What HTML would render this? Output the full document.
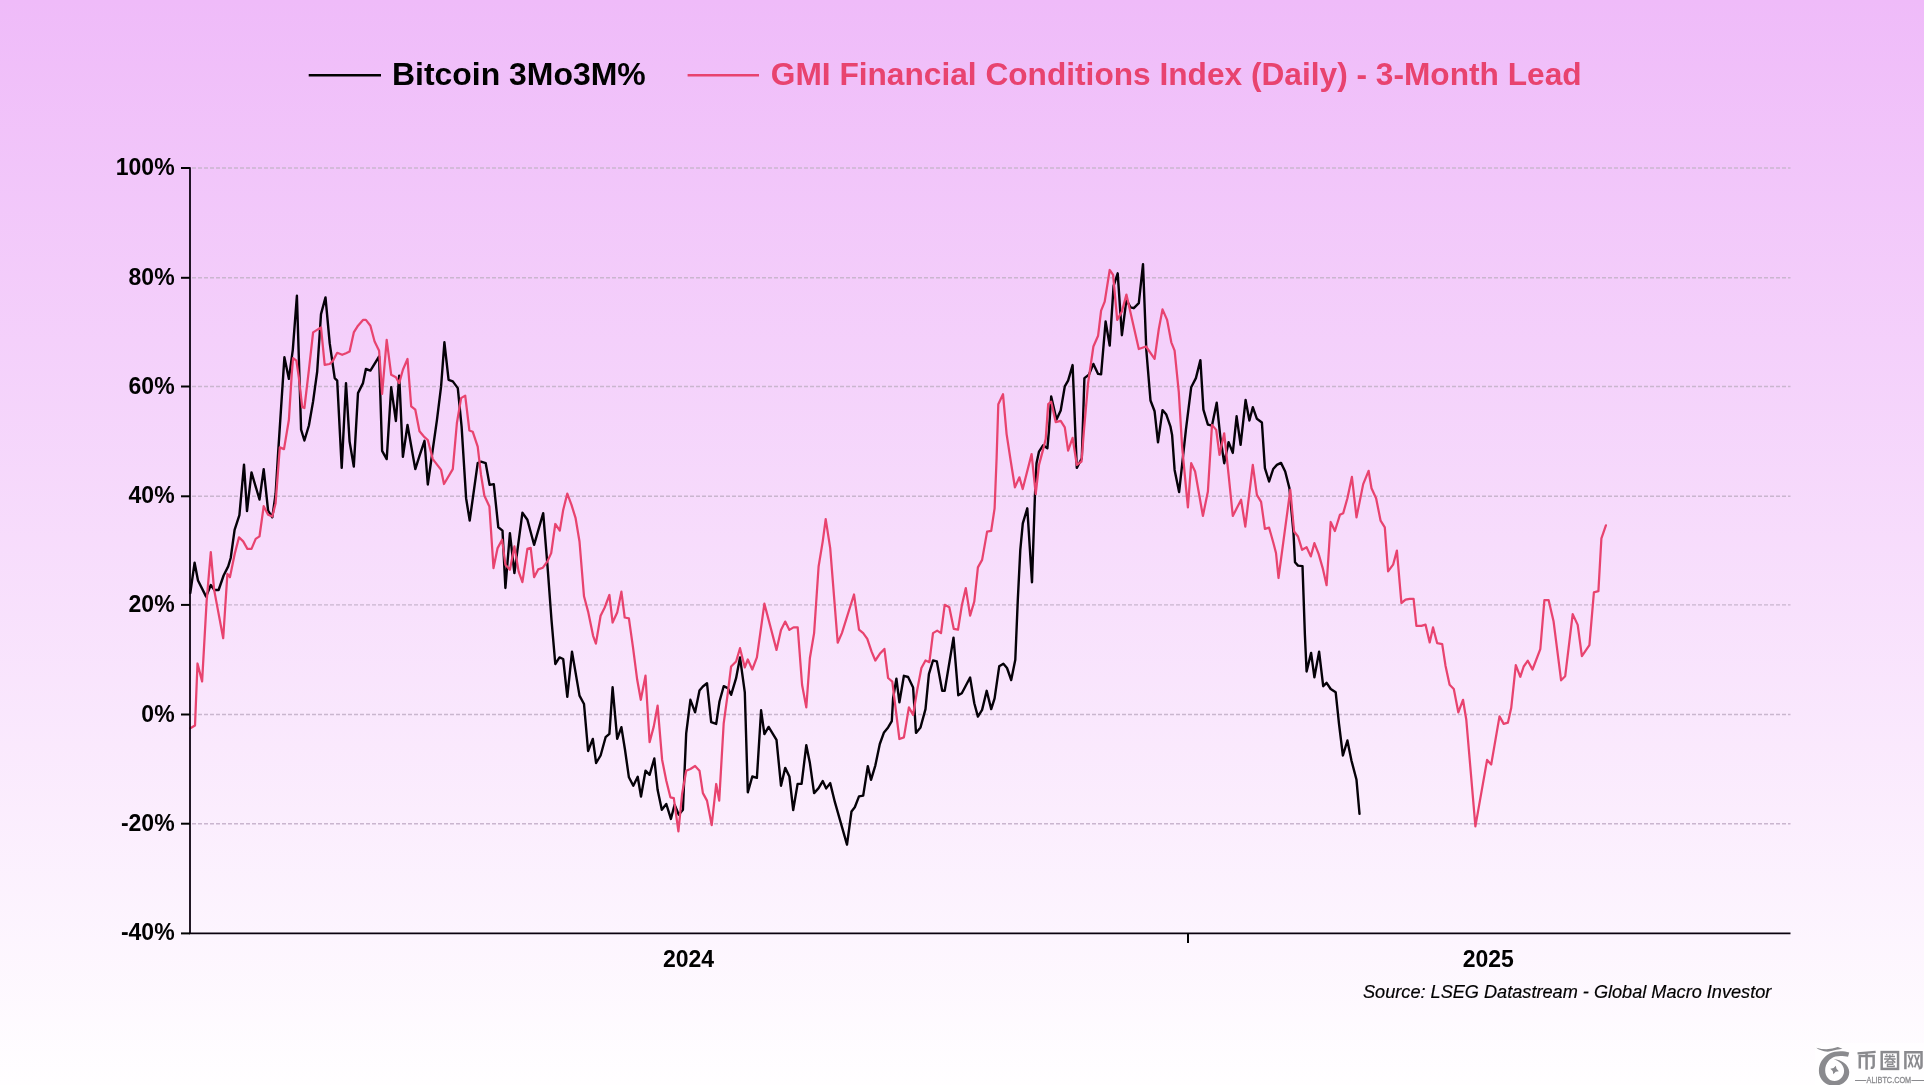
<!DOCTYPE html>
<html><head><meta charset="utf-8"><title>Bitcoin vs GMI Financial Conditions</title>
<style>
html,body{margin:0;padding:0}
body{width:1924px;height:1085px;overflow:hidden;position:relative;background:#F6DBFB;font-family:"Liberation Sans",sans-serif}
#bg{position:absolute;left:0;top:0;width:1924px;height:1085px;background:linear-gradient(180deg,#EFBBF9 0px,#FFFEFF 1085px)}
svg{position:absolute;left:0;top:0;display:block;will-change:transform;opacity:0.9999}
text{font-family:"Liberation Sans",sans-serif}
.yl{font-size:23px;font-weight:bold;fill:#000;text-anchor:end}
.xl{font-size:23px;font-weight:bold;fill:#000;text-anchor:middle}
</style></head><body>
<div id="bg"></div>
<svg width="1924" height="1085" viewBox="0 0 1924 1085">
<line x1="308.7" y1="75.3" x2="381" y2="75.3" stroke="#000" stroke-width="2.4"/>
<text x="392" y="85.3" font-size="31.95" font-weight="bold" fill="#000">Bitcoin 3Mo3M%</text>
<line x1="687.6" y1="75.3" x2="759" y2="75.3" stroke="#E8436F" stroke-width="2.4"/>
<text x="770.8" y="85.3" font-size="31.66" font-weight="bold" fill="#E8436F">GMI Financial Conditions Index (Daily) - 3-Month Lead</text>
<line x1="192.0" y1="168.0" x2="1790.5" y2="168.0" stroke="#CAB6CF" stroke-width="1.4" stroke-dasharray="4 2"/>
<line x1="192.0" y1="277.8" x2="1790.5" y2="277.8" stroke="#CAB6CF" stroke-width="1.4" stroke-dasharray="4 2"/>
<line x1="192.0" y1="386.5" x2="1790.5" y2="386.5" stroke="#CAB6CF" stroke-width="1.4" stroke-dasharray="4 2"/>
<line x1="192.0" y1="496.3" x2="1790.5" y2="496.3" stroke="#CAB6CF" stroke-width="1.4" stroke-dasharray="4 2"/>
<line x1="192.0" y1="604.9" x2="1790.5" y2="604.9" stroke="#CAB6CF" stroke-width="1.4" stroke-dasharray="4 2"/>
<line x1="192.0" y1="714.5" x2="1790.5" y2="714.5" stroke="#CAB6CF" stroke-width="1.4" stroke-dasharray="4 2"/>
<line x1="192.0" y1="823.7" x2="1790.5" y2="823.7" stroke="#CAB6CF" stroke-width="1.4" stroke-dasharray="4 2"/>
<path d="M190.3,593.0 L194.6,562.7 L198.0,580.5 L206.1,596.6 L210.8,585.0 L214.4,590.0 L218.6,590.0 L223.6,575.5 L228.2,566.4 L230.7,558.0 L234.6,529.8 L239.4,515.1 L244.0,464.6 L247.0,511.1 L251.5,472.4 L259.5,499.5 L263.7,469.1 L268.1,510.6 L272.3,517.3 L275.6,494.0 L278.1,453.3 L284.4,357.3 L288.9,378.9 L292.8,349.8 L296.9,295.8 L301.1,429.7 L304.4,440.5 L308.9,425.5 L313.1,401.4 L317.2,371.5 L321.0,314.1 L325.5,297.4 L329.7,343.2 L334.7,378.1 L337.2,380.6 L341.7,467.9 L346.0,383.1 L349.6,441.6 L353.8,466.6 L358.0,393.1 L363.0,383.1 L365.9,369.0 L370.4,370.6 L379.1,356.5 L382.1,450.8 L386.7,459.1 L391.2,387.3 L395.9,421.0 L399.2,375.6 L402.9,456.9 L407.5,425.0 L415.3,469.1 L419.5,455.8 L424.5,440.8 L427.8,484.5 L437.0,419.7 L441.1,386.4 L444.4,342.3 L448.6,379.8 L452.8,381.4 L457.8,388.1 L461.6,426.7 L466.1,498.2 L469.7,520.6 L477.7,463.2 L481.0,461.6 L485.7,463.2 L489.6,484.9 L493.8,484.1 L498.3,527.3 L502.5,530.6 L505.4,588.0 L509.9,533.1 L514.4,573.1 L522.4,512.8 L527.4,519.8 L534.1,544.8 L543.2,513.2 L547.4,564.7 L551.5,620.0 L555.3,664.0 L559.5,657.4 L563.2,659.0 L567.3,696.8 L572.0,651.6 L579.5,695.6 L584.0,704.0 L588.1,751.0 L592.8,738.9 L596.1,763.0 L600.6,755.5 L605.6,737.2 L609.4,733.9 L612.6,687.3 L617.2,738.9 L621.4,727.2 L625.0,749.7 L628.9,777.3 L633.3,785.7 L637.7,776.8 L641.0,796.5 L645.5,770.7 L649.6,774.8 L654.3,758.5 L657.6,789.8 L661.8,809.8 L666.3,804.0 L670.9,818.9 L674.6,804.8 L678.8,814.8 L682.9,809.8 L686.2,733.3 L690.4,699.8 L695.1,712.3 L699.5,690.6 L702.9,686.5 L707.0,683.2 L711.2,722.2 L716.2,723.9 L719.5,701.5 L723.7,686.2 L727.8,688.1 L731.1,694.8 L736.1,678.2 L740.0,657.4 L744.8,692.3 L747.8,792.3 L752.3,776.5 L756.9,777.8 L761.1,710.3 L764.4,734.1 L768.6,726.9 L776.5,739.9 L781.0,785.7 L785.2,767.9 L789.4,776.5 L793.2,810.1 L797.6,783.9 L801.6,783.9 L806.3,745.2 L809.9,763.1 L814.1,793.1 L818.6,788.1 L822.7,781.1 L826.2,788.4 L830.2,783.1 L834.9,802.2 L847.0,844.6 L851.5,811.4 L854.8,807.2 L859.0,796.4 L863.2,795.6 L867.8,766.1 L871.0,779.8 L875.3,765.6 L879.8,744.0 L884.0,732.4 L888.1,727.4 L891.8,721.2 L893.1,698.3 L896.4,678.6 L899.4,702.4 L903.9,675.8 L908.1,677.0 L913.1,687.5 L916.0,732.9 L920.5,727.4 L925.5,709.1 L928.9,674.2 L933.0,660.5 L936.8,661.3 L942.2,690.8 L944.7,690.8 L953.5,637.7 L958.3,695.3 L961.8,693.3 L970.1,677.5 L974.3,703.3 L977.9,716.6 L982.1,709.9 L986.7,690.8 L991.2,709.1 L994.6,698.3 L999.2,666.3 L1003.4,663.8 L1007.0,668.0 L1011.2,680.0 L1015.3,659.7 L1017.8,599.8 L1020.3,549.9 L1022.8,523.3 L1027.3,508.3 L1032.0,582.3 L1034.9,496.5 L1036.5,463.2 L1039.0,451.6 L1043.2,445.2 L1047.4,448.2 L1049.0,429.9 L1051.2,396.4 L1056.5,419.6 L1060.7,410.5 L1064.8,386.4 L1068.1,380.6 L1072.6,365.1 L1076.8,467.9 L1081.8,458.2 L1084.4,378.1 L1088.9,374.7 L1093.4,363.9 L1098.1,373.9 L1101.1,374.4 L1105.6,321.5 L1109.7,345.6 L1113.6,285.8 L1117.7,273.3 L1121.9,335.2 L1126.4,299.9 L1130.5,307.4 L1133.8,308.2 L1138.8,303.2 L1143.0,264.1 L1146.3,349.8 L1150.5,400.5 L1154.6,411.3 L1158.0,442.4 L1162.5,410.1 L1166.3,414.6 L1170.4,426.3 L1172.1,434.9 L1174.6,469.9 L1179.1,492.0 L1182.1,464.9 L1185.9,429.9 L1191.2,387.2 L1195.9,378.1 L1200.4,360.1 L1203.4,409.7 L1207.9,424.6 L1212.0,425.5 L1216.7,402.7 L1220.3,436.6 L1224.2,463.2 L1228.6,442.1 L1232.8,452.9 L1236.6,416.3 L1240.6,444.9 L1245.6,400.0 L1249.4,420.5 L1252.8,407.2 L1256.9,418.8 L1261.9,422.5 L1264.9,468.2 L1269.1,481.5 L1273.2,469.0 L1276.9,464.9 L1281.0,462.9 L1285.2,471.5 L1289.4,488.1 L1293.5,533.1 L1295.0,562.2 L1298.0,565.6 L1302.5,566.1 L1304.9,634.9 L1306.6,671.5 L1311.1,652.9 L1314.4,677.3 L1319.1,651.6 L1323.2,686.2 L1326.6,682.8 L1330.7,689.0 L1335.7,692.3 L1339.0,723.9 L1342.9,755.5 L1347.4,740.5 L1351.5,760.7 L1356.5,779.8 L1359.5,813.9" fill="none" stroke="#050008" stroke-width="2.4" stroke-linejoin="round" stroke-linecap="round"/>
<path d="M190.3,728.3 L195.0,725.5 L197.5,663.5 L202.1,681.4 L206.6,601.6 L210.8,552.2 L214.1,589.6 L223.2,638.2 L227.4,573.8 L229.9,577.2 L234.9,553.1 L239.0,537.3 L243.2,541.4 L247.4,548.9 L251.5,548.9 L255.7,538.9 L259.5,536.4 L263.7,506.2 L268.1,514.8 L272.3,516.5 L275.6,503.2 L279.8,447.4 L284.0,449.1 L288.9,419.7 L291.8,373.1 L293.1,358.1 L296.4,360.6 L298.9,378.1 L302.2,407.2 L304.4,408.0 L308.9,369.8 L313.1,332.4 L321.0,327.4 L324.7,364.8 L329.7,364.0 L333.0,360.6 L337.2,352.8 L342.2,354.8 L346.0,353.2 L349.6,351.5 L353.8,332.4 L358.0,325.7 L363.0,319.9 L365.9,319.9 L370.4,325.7 L374.6,341.5 L379.1,350.7 L382.1,393.9 L386.7,339.9 L391.2,374.8 L395.9,377.3 L399.2,383.1 L402.9,369.8 L407.5,359.0 L411.2,406.4 L415.3,409.7 L419.5,431.3 L423.7,436.3 L427.8,440.0 L432.8,459.1 L441.1,469.9 L444.0,484.0 L452.8,469.1 L456.9,423.0 L461.1,398.1 L465.2,395.6 L469.4,430.5 L472.7,431.7 L477.7,446.6 L481.0,474.9 L484.4,495.7 L489.4,506.5 L493.5,568.1 L497.6,548.1 L502.1,539.8 L505.4,564.7 L509.9,569.7 L514.4,546.4 L518.6,571.4 L522.4,582.2 L527.4,548.9 L530.7,547.8 L534.1,577.2 L538.2,569.4 L542.9,567.7 L547.4,561.4 L551.2,553.1 L555.3,524.0 L559.8,530.6 L563.2,509.9 L567.3,493.6 L571.5,504.9 L575.6,518.2 L579.5,541.5 L584.0,596.3 L588.1,611.6 L593.1,635.8 L595.9,643.6 L600.6,615.8 L604.7,607.5 L609.4,595.0 L612.6,622.5 L617.2,612.5 L621.4,591.7 L624.7,617.5 L628.9,618.3 L633.0,647.4 L637.2,679.8 L640.8,699.8 L645.5,675.7 L649.6,742.2 L653.8,726.4 L657.6,705.6 L662.1,759.7 L666.3,780.7 L670.4,797.3 L673.8,798.1 L678.4,831.4 L682.1,794.0 L686.2,770.7 L690.4,769.0 L695.1,766.0 L699.5,770.7 L702.9,793.1 L707.0,800.6 L711.7,825.1 L716.2,784.0 L719.2,800.6 L723.7,723.3 L727.8,693.1 L731.1,666.5 L736.1,661.5 L740.0,648.2 L744.8,667.4 L747.8,659.5 L752.3,669.5 L756.9,657.4 L764.4,603.7 L776.5,649.9 L781.0,629.9 L785.2,621.6 L789.4,629.9 L793.5,627.4 L797.7,627.4 L802.1,685.0 L806.3,707.4 L809.9,658.0 L814.1,633.1 L818.6,566.5 L822.7,541.6 L825.7,519.1 L830.2,548.2 L837.7,642.7 L841.9,633.1 L854.0,594.5 L859.0,629.7 L863.2,633.1 L867.3,638.9 L871.5,651.4 L875.3,660.5 L879.8,653.8 L884.4,648.9 L888.1,678.0 L892.3,681.6 L899.4,739.0 L903.9,737.4 L908.9,707.4 L913.1,714.9 L917.2,690.0 L921.4,668.0 L925.5,660.5 L929.4,662.2 L933.0,633.1 L937.2,630.6 L941.0,633.1 L944.7,604.8 L949.3,607.3 L953.8,628.9 L958.0,629.7 L961.8,605.6 L965.8,588.1 L970.1,615.6 L974.3,601.5 L977.9,567.4 L982.1,559.9 L987.1,531.6 L991.2,530.8 L994.6,508.3 L996.6,458.2 L998.3,404.2 L1003.0,394.2 L1006.6,434.1 L1010.8,461.5 L1014.9,487.3 L1019.4,477.3 L1022.7,489.0 L1031.6,454.1 L1035.7,494.0 L1039.0,464.9 L1043.2,449.1 L1045.7,439.1 L1048.2,404.2 L1051.2,401.7 L1055.7,422.1 L1060.7,420.8 L1064.8,427.4 L1068.1,450.7 L1072.6,437.9 L1076.8,464.9 L1081.5,461.5 L1084.0,429.9 L1088.1,383.1 L1093.4,346.5 L1098.1,335.7 L1101.1,310.7 L1104.7,301.6 L1109.7,270.0 L1113.1,274.9 L1117.2,319.9 L1121.9,311.5 L1126.4,294.6 L1130.5,312.4 L1138.8,349.0 L1146.0,346.5 L1154.6,358.9 L1158.8,329.0 L1162.5,309.4 L1167.1,319.9 L1171.3,342.3 L1174.6,350.6 L1178.8,392.2 L1182.1,446.6 L1187.9,507.3 L1191.2,463.2 L1195.1,471.5 L1202.9,515.9 L1207.9,491.5 L1212.0,424.9 L1216.2,429.9 L1219.5,454.9 L1224.2,433.3 L1228.6,474.8 L1232.8,515.9 L1241.1,499.8 L1245.3,526.7 L1252.8,464.9 L1256.9,494.8 L1261.1,501.8 L1264.9,528.9 L1269.1,527.7 L1273.2,542.2 L1276.0,553.0 L1278.5,578.0 L1290.3,489.9 L1294.1,531.5 L1298.0,536.5 L1302.1,549.8 L1306.6,547.3 L1310.8,556.4 L1314.4,543.1 L1318.6,553.9 L1322.7,568.1 L1326.6,585.2 L1330.7,522.0 L1334.9,531.0 L1339.9,514.8 L1343.2,513.2 L1347.4,498.2 L1351.9,476.9 L1356.5,517.3 L1363.2,484.1 L1368.6,470.8 L1371.5,488.2 L1376.1,498.2 L1380.6,520.7 L1384.8,527.3 L1388.1,571.4 L1393.1,564.7 L1396.9,550.6 L1401.4,603.0 L1405.6,599.7 L1409.7,598.8 L1413.6,598.8 L1416.4,625.8 L1421.4,625.8 L1425.5,624.6 L1429.7,642.4 L1433.0,627.4 L1437.2,643.2 L1442.2,644.1 L1445.5,665.7 L1449.6,684.8 L1453.8,689.0 L1458.3,712.3 L1463.0,699.8 L1466.3,719.8 L1475.4,826.4 L1487.1,759.9 L1491.2,764.5 L1499.5,716.4 L1503.7,723.9 L1507.9,722.7 L1511.2,708.1 L1515.8,665.2 L1520.3,676.8 L1523.7,666.5 L1527.8,660.7 L1532.5,669.5 L1540.3,649.1 L1544.4,600.0 L1548.6,600.0 L1553.6,621.6 L1561.1,680.3 L1565.2,676.2 L1572.7,614.1 L1577.7,624.9 L1581.9,656.2 L1589.4,645.2 L1593.9,592.3 L1598.4,591.1 L1601.4,538.3 L1605.9,525.3" fill="none" stroke="#E8436F" stroke-width="2.25" stroke-linejoin="round" stroke-linecap="round"/>
<line x1="190.0" y1="167.2" x2="190.0" y2="934.1" stroke="#0A000E" stroke-width="1.8"/>
<line x1="189.1" y1="933.45" x2="1790.5" y2="933.45" stroke="#0A000E" stroke-width="1.7"/>
<line x1="181" y1="168.0" x2="190.0" y2="168.0" stroke="#000" stroke-width="2"/>
<text class="yl" x="174.6" y="175.0">100%</text>
<line x1="181" y1="277.8" x2="190.0" y2="277.8" stroke="#000" stroke-width="2"/>
<text class="yl" x="174.6" y="284.8">80%</text>
<line x1="181" y1="386.5" x2="190.0" y2="386.5" stroke="#000" stroke-width="2"/>
<text class="yl" x="174.6" y="393.5">60%</text>
<line x1="181" y1="496.3" x2="190.0" y2="496.3" stroke="#000" stroke-width="2"/>
<text class="yl" x="174.6" y="503.3">40%</text>
<line x1="181" y1="604.9" x2="190.0" y2="604.9" stroke="#000" stroke-width="2"/>
<text class="yl" x="174.6" y="611.9">20%</text>
<line x1="181" y1="714.5" x2="190.0" y2="714.5" stroke="#000" stroke-width="2"/>
<text class="yl" x="174.6" y="721.5">0%</text>
<line x1="181" y1="823.7" x2="190.0" y2="823.7" stroke="#000" stroke-width="2"/>
<text class="yl" x="174.6" y="830.7">-20%</text>
<line x1="181" y1="933.4" x2="190.0" y2="933.4" stroke="#000" stroke-width="2"/>
<text class="yl" x="174.6" y="940.4">-40%</text>
<line x1="1188" y1="933" x2="1188" y2="942.9" stroke="#000" stroke-width="2"/>
<text class="xl" x="688.5" y="967">2024</text>
<text class="xl" x="1488.3" y="967">2025</text>
<text x="1363" y="998" font-size="18.15" font-style="italic" fill="#000" stroke="#000" stroke-width="0.2">Source: LSEG Datastream - Global Macro Investor</text>
<rect x="1815" y="1043" width="109" height="42" fill="#fff" opacity="0.6"/>
<g transform="translate(1810,1040) scale(0.059252)" fill="#8A8A8E" stroke="none">
<path d="M105,130 Q300,186 470,120 L548,148 Q470,160 300,198 Q170,184 105,130 Z"/>
<path d="M662,212 C560,176 420,182 330,228 C215,290 148,400 150,522 C152,660 260,772 410,772 C550,772 664,670 662,540 C658,420 530,326 398,326 C500,352 575,430 575,520 C575,620 500,692 415,692 C320,692 256,610 256,510 C258,400 330,310 430,280 C500,260 580,272 642,284 Z"/>
<path transform="rotate(16 415 505)" d="M415,430 L441,479 L490,505 L441,531 L415,580 L389,531 L340,505 L389,479 Z"/>
<g fill="none" stroke="#8A8A8E" stroke-width="42" stroke-linecap="butt" stroke-linejoin="miter">
<path d="M802,226 L1108,200" stroke-width="40"/>
<path d="M840,482 L840,272 L1074,272 L1074,435 Q1074,474 1025,468"/>
<path d="M955,215 L955,502"/>
<rect x="1210" y="204" width="276" height="284" stroke-width="42"/>
<g stroke-width="24">
<path d="M1290,236 L1302,262 M1400,236 L1388,262"/>
<path d="M1262,278 L1434,278 M1250,322 L1446,322"/>
<path d="M1348,246 L1348,322 M1334,322 L1262,392 M1372,322 L1440,382"/>
<path d="M1302,372 L1398,372 L1398,408 L1308,408 L1308,448 L1420,448 L1420,428"/>
</g>
<path d="M1610,494 L1610,208 L1882,208 L1882,440 Q1882,482 1836,476" stroke-width="42"/>
<g stroke-width="28">
<path d="M1660,250 L1738,462 M1738,250 L1660,462"/>
<path d="M1766,250 L1844,462 M1844,250 L1766,462"/>
</g>
</g>
<path d="M760,675 H950 V691 H760 Z M1712,675 H1930 V691 H1712 Z"/>
</g>
<text x="1866.6" y="1082.9" font-size="8.9" fill="#8A8A8E" stroke="#8A8A8E" stroke-width="0.3" textLength="44.6" lengthAdjust="spacingAndGlyphs">ALIBTC.COM</text>
</svg></body></html>
